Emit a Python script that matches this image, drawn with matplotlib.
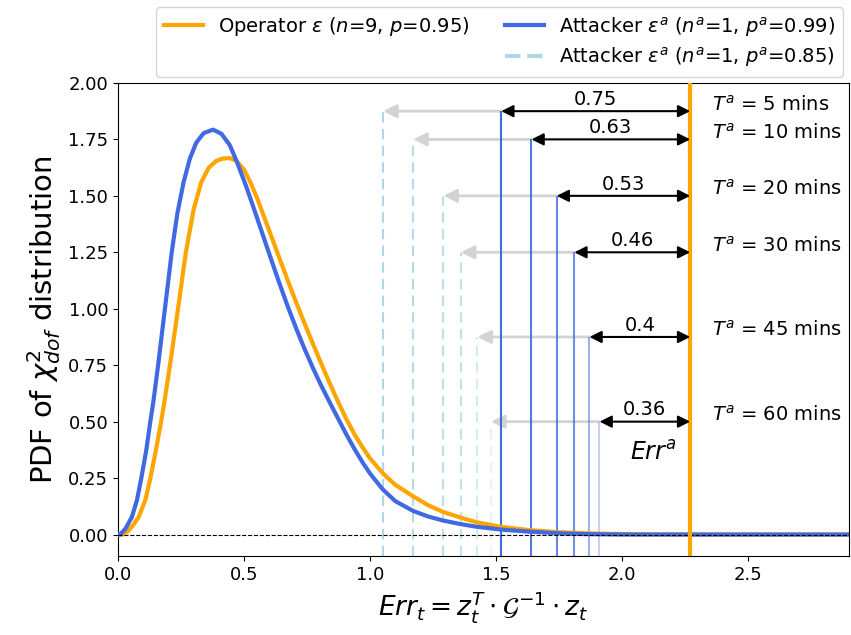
import numpy as np
import matplotlib.pyplot as plt
from matplotlib.lines import Line2D

# values
op_x = [0.0, 0.02, 0.042, 0.062, 0.082, 0.108, 0.128, 0.15, 0.171, 0.185, 0.21, 0.238, 0.269,
        0.30, 0.33, 0.36, 0.39, 0.415, 0.443, 0.47, 0.50, 0.523, 0.55, 0.575, 0.61, 0.641,
        0.675, 0.707, 0.74, 0.773, 0.805, 0.839, 0.87, 0.905, 0.94, 0.971, 1.0, 1.05, 1.1,
        1.17, 1.23, 1.29, 1.36, 1.42, 1.52, 1.63, 1.74, 1.85, 1.95, 2.1, 2.3, 2.9]
op_y = [0.0, 0.0, 0.018, 0.045, 0.078, 0.152, 0.248, 0.373, 0.5, 0.595, 0.78, 1.0, 1.25,
        1.44, 1.56, 1.625, 1.655, 1.665, 1.667, 1.655, 1.615, 1.565, 1.495, 1.42, 1.315, 1.222,
        1.12, 1.027, 0.935, 0.845, 0.76, 0.672, 0.595, 0.513, 0.44, 0.385, 0.337, 0.272, 0.22,
        0.17, 0.13, 0.1, 0.075, 0.055, 0.034, 0.02, 0.011, 0.006, 0.003, 0.001, 0.0, 0.0]

att_x = [0.0, 0.008, 0.03, 0.055, 0.075, 0.092, 0.112, 0.128, 0.141, 0.159, 0.186, 0.213,
         0.235, 0.26, 0.285, 0.31, 0.34, 0.377, 0.41, 0.443, 0.47, 0.509, 0.54, 0.575, 0.61,
         0.641, 0.675, 0.707, 0.74, 0.773, 0.805, 0.839, 0.87, 0.905, 0.94, 0.971, 1.0, 1.05,
         1.1, 1.17, 1.23, 1.29, 1.36, 1.42, 1.52, 1.63, 1.74, 1.85, 2.0, 2.9]
att_y = [0.0, 0.0, 0.027, 0.078, 0.152, 0.248, 0.373, 0.5, 0.595, 0.75, 1.0, 1.25,
         1.42, 1.56, 1.665, 1.735, 1.778, 1.793, 1.775, 1.725, 1.655, 1.54, 1.44, 1.325, 1.21,
         1.11, 1.005, 0.912, 0.822, 0.738, 0.662, 0.587, 0.52, 0.445, 0.375, 0.318, 0.27, 0.2,
         0.148, 0.105, 0.08, 0.062, 0.046, 0.035, 0.022, 0.013, 0.006, 0.002, 0.0, 0.0]

err_a = 2.27
durations = ['5', '10', '20', '30', '45', '60']
th_99 = [1.52, 1.64, 1.74, 1.81, 1.87, 1.91]
th_85 = [1.052, 1.171, 1.291, 1.36, 1.426, 1.48]
heights = [1.875, 1.75, 1.5, 1.25, 0.875, 0.5]
gaps = ['0.75', '0.63', '0.53', '0.46', '0.4', '0.36']
alphas = [1.0, 0.9, 0.8, 0.75, 0.5, 0.3]

fig = plt.figure(figsize=(8.51, 6.35), dpi=100)
ax = fig.add_axes([0.1387, 0.1244, 0.859, 0.745])
ylo, yhi = -0.095, 2.0

ax.plot(op_x, op_y, color='orange', lw=3, zorder=3)
ax.plot(att_x, att_y, color='royalblue', lw=3, zorder=3)
ax.axhline(0, color='black', ls='--', lw=0.8, zorder=4)
ax.axvline(err_a, color='orange', lw=3, zorder=5)

for i in range(len(heights)):
    h = heights[i]
    ax.vlines(th_99[i], ylo, h, color='royalblue', lw=1.5, alpha=alphas[i], zorder=2)
    ax.vlines(th_85[i], ylo, h, color='lightblue', lw=1.5, ls=(0, (5, 3)), alpha=alphas[i], zorder=2)
    ax.annotate('', xy=(th_85[i], h), xytext=(th_99[i], h),
                arrowprops=dict(arrowstyle='-|>', color='#d3d3d3', lw=2, mutation_scale=20,
                                shrinkA=0, shrinkB=0), zorder=1)
    ax.annotate('', xy=(th_99[i], h), xytext=(err_a, h),
                arrowprops=dict(arrowstyle='<|-|>', color='black', lw=1.5, mutation_scale=18,
                                shrinkA=0, shrinkB=0), zorder=6)
    ax.text((th_99[i] + err_a) / 2, h + 0.01, gaps[i], ha='center', va='bottom', fontsize=14)
    ax.text(2.356, h + 0.03, r'$T^a$ = ' + durations[i] + ' mins', ha='left', va='center', fontsize=14)

ax.text(2.217, 0.36, r'$Err^a$', ha='right', va='center', fontsize=17)

ax.set_xlim(0, 2.9)
ax.set_ylim(ylo, yhi)
ax.set_xticks(np.arange(0, 2.51, 0.5))
ax.set_yticks(np.arange(0, 2.01, 0.25))
ax.yaxis.set_major_formatter(plt.FormatStrFormatter('%.2f'))
ax.tick_params(labelsize=13)
ax.set_xlabel(r'$Err_t = z_t^T \cdot \mathcal{G}^{-1} \cdot z_t$', fontsize=19)
ax.set_ylabel(r'PDF of $\chi^2_{dof}$ distribution', fontsize=21)

handles = [Line2D([], [], color='orange', lw=3),
           Line2D([], [], color='none'),
           Line2D([], [], color='royalblue', lw=3),
           Line2D([], [], color='lightblue', lw=3, ls='--')]
labels = [r'Operator $\varepsilon$ ($n$=9, $p$=0.95)', '',
          r'Attacker $\varepsilon^a$ ($n^a$=1, $p^a$=0.99)',
          r'Attacker $\varepsilon^a$ ($n^a$=1, $p^a$=0.85)']
ax.legend(handles, labels, ncol=2, fontsize=14, loc='lower right',
          bbox_to_anchor=(1.0, 1.0), borderaxespad=0.3, columnspacing=1.8,
          handlelength=2.0, labelspacing=0.35)

fig.savefig('out.png', dpi=100)
